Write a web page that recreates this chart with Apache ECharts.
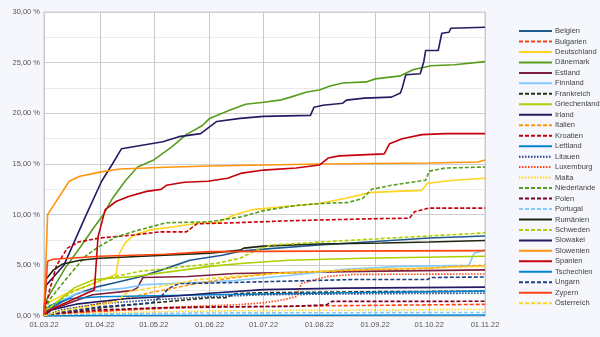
<!DOCTYPE html>
<html><head><meta charset="utf-8">
<script src="https://cdn.jsdelivr.net/npm/echarts/dist/echarts.min.js"></script>
<style>html,body{margin:0;padding:0;background:#f5f7fc}#c{width:600px;height:337px}</style>
</head><body><div id="c"></div><script>
// ---- data (date "MM-DD" in 2022, value in %) ----
const countries = ['Belgien','Bulgarien','Deutschland','Dänemark','Estland','Finnland','Frankreich','Griechenland','Irland','Italien','Kroatien','Lettland','Litauen','Luxemburg','Malta','Niederlande','Polen','Portugal','Rumänien','Schweden','Slowakei','Slowenien','Spanien','Tschechien','Ungarn','Zypern','Österreich'];
const yTicks = [0,5,10,15,20,25,30];

const belgien = [['03-01',0],['03-02',0.5],['03-18',2.1],['03-31',2.9],['04-10',3.3],['04-24',3.9],['05-08',4.7],['05-21',5.5],['06-08',6.0],['06-18',6.4],['07-01',6.6],['08-01',7.0],['09-01',7.35],['10-01',7.7],['11-01',7.9]];
const bulgarien = [['03-01',0],['03-15',0.3],['04-15',0.6],['05-15',0.8],['06-15',0.9],['08-01',1.0],['11-01',1.15]];
const deutschland = [['03-01',0],['03-02',1.2],['03-13',2.2],['03-27',3.1],['04-10',4.1],['04-12',6.2],['04-15',7.2],['04-20',8.0],['04-29',8.5],['05-12',8.8],['05-27',9.2],['06-05',9.2],['06-15',10.0],['06-25',10.5],['07-13',10.8],['08-01',11.1],['08-15',11.6],['08-30',12.2],['09-27',12.4],['09-30',13.1],['10-15',13.4],['11-01',13.6]];
const daenemark = [['03-01',0],['03-02',1.5],['03-13',4.8],['03-22',7.0],['03-29',8.8],['04-03',10.0],['04-08',11.6],['04-15',13.3],['04-22',14.7],['05-01',15.4],['05-11',16.7],['05-19',17.9],['05-28',18.8],['06-01',19.5],['06-12',20.3],['06-21',20.9],['07-01',21.1],['07-10',21.3],['07-16',21.6],['07-25',22.1],['08-01',22.3],['08-07',22.7],['08-14',23.0],['08-27',23.1],['09-01',23.4],['09-15',23.7],['09-22',24.3],['10-02',24.7],['10-15',24.8],['11-01',25.1]];
const estland = [['03-01',0],['03-05',0.6],['03-17',1.4],['03-28',2.1],['04-19',2.5],['04-22',2.8],['04-25',3.8],['05-20',3.9],['06-15',4.2],['08-25',4.4],['11-01',4.55]];
const finnland = [['03-01',0],['03-05',1.0],['03-20',2.3],['04-01',2.5],['04-15',2.75],['04-26',3.1],['05-20',3.25],['06-15',3.5],['07-15',4.0],['08-15',4.6],['09-15',4.9],['10-23',5.0],['10-26',6.2],['11-01',6.5]];
const frankreich = [['03-01',0],['03-15',0.4],['04-01',0.8],['05-01',1.3],['06-01',1.8],['06-10',1.8],['06-15',2.2],['07-01',2.3],['09-01',2.4],['11-01',2.45]];
const griechenland = [['03-01',0],['03-02',0.5],['03-18',2.8],['03-29',3.6],['04-20',3.9],['05-20',4.6],['06-01',4.9],['06-20',5.2],['07-15',5.5],['08-25',5.7],['11-01',5.9]];
const irland = [['03-01',0],['03-02',3.0],['03-08',4.2],['03-12',5.0],['03-17',7.0],['03-24',9.8],['04-02',13.3],['04-08',15.0],['04-13',16.5],['05-06',17.2],['05-15',17.7],['05-27',18.0],['06-05',19.2],['06-18',19.5],['07-01',19.7],['07-27',19.8],['07-29',20.6],['08-03',20.8],['08-14',21.0],['08-16',21.3],['08-26',21.5],['09-10',21.6],['09-15',22.0],['09-16',22.5],['09-18',23.8],['09-26',23.9],['09-28',25.1],['09-29',26.2],['10-06',26.2],['10-08',27.9],['10-12',28.0],['10-13',28.4],['11-01',28.5]];
const italien = [['03-01',0],['03-10',0.5],['03-25',1.0],['04-20',1.9],['04-29',2.3],['05-26',3.25],['06-15',3.8],['07-07',4.2],['08-25',4.55],['10-01',4.7],['10-15',4.9],['11-01',5.0]];
const kroatien = [['03-01',0],['03-04',2.5],['03-08',5.0],['03-14',6.7],['03-20',7.3],['04-01',7.7],['04-20',8.0],['05-04',8.3],['05-19',8.3],['05-25',9.1],['06-15',9.2],['07-15',9.4],['08-31',9.6],['09-20',9.65],['09-23',10.3],['10-01',10.65],['11-01',10.65]];
const lettland = [['03-01',0],['03-04',1.0],['03-15',1.7],['04-01',1.9],['06-01',2.1],['08-15',2.3],['11-01',2.45]];
const litauen = [['03-01',0],['03-10',0.6],['04-01',1.2],['05-01',1.6],['06-01',1.9],['07-01',2.1],['09-01',2.2],['11-01',2.25]];
const luxemburg = [['03-01',0],['03-15',0.3],['04-15',0.6],['05-15',0.9],['06-15',1.1],['07-01',1.3],['07-12',1.6],['07-19',1.9],['07-22',3.2],['08-05',3.9],['08-20',4.1],['11-01',4.15]];
const malta = [['03-01',0],['04-01',0.3],['06-01',0.5],['11-01',0.65]];
const niederlande = [['03-01',0],['03-04',1.6],['03-14',3.8],['03-24',5.9],['04-01',6.9],['04-10',7.8],['04-23',8.5],['05-08',9.2],['06-01',9.3],['06-19',9.8],['07-01',10.4],['07-19',10.9],['08-01',11.1],['08-17',11.2],['08-25',11.6],['08-30',12.5],['09-10',12.9],['09-25',13.3],['09-29',13.4],['10-01',14.3],['10-10',14.6],['11-01',14.7]];
const polen = [['03-01',0],['03-10',0.3],['04-01',0.6],['05-01',0.8],['06-01',0.9],['07-15',0.95],['08-05',1.1],['08-08',1.44],['11-01',1.45]];
const portugal = [['03-01',0],['04-01',0.2],['06-01',0.3],['11-01',0.35]];
const rumaenien = [['03-01',0],['03-02',3.6],['03-06',4.5],['03-11',5.1],['03-21',5.5],['04-01',5.7],['05-07',6.0],['06-01',6.2],['06-18',6.5],['06-20',6.7],['07-01',6.9],['08-01',7.1],['09-05',7.2],['10-01',7.3],['11-01',7.45]];
const schweden = [['03-01',0],['03-02',0.6],['03-17',2.4],['04-04',3.7],['04-23',4.4],['05-20',4.9],['06-05',5.2],['06-18',5.7],['06-27',6.5],['07-05',7.0],['07-28',7.25],['09-10',7.7],['10-01',7.9],['11-01',8.2]];
const slowakei = [['03-01',0],['03-05',0.6],['03-20',1.2],['04-15',1.7],['05-15',2.0],['06-01',2.25],['07-01',2.6],['08-15',2.75],['11-01',2.85]];
const slowenien = [['03-01',0],['03-03',10.0],['03-15',13.3],['03-21',13.8],['04-01',14.2],['04-12',14.5],['05-12',14.7],['06-01',14.8],['08-01',15.0],['10-01',15.1],['10-28',15.2],['11-01',15.4]];
const spanien = [['03-01',0],['03-03',0.5],['03-29',2.6],['03-31',7.8],['04-04',10.5],['04-10',11.3],['04-17',11.8],['04-27',12.3],['05-05',12.5],['05-08',12.9],['05-18',13.2],['05-31',13.3],['06-11',13.6],['06-19',14.1],['07-01',14.4],['07-19',14.6],['08-01',14.9],['08-06',15.6],['08-12',15.8],['09-06',16.0],['09-09',17.0],['09-16',17.5],['09-27',17.9],['10-10',18.0],['11-01',18.0]];
const tschechien = [['03-01',0],['04-01',0.05],['11-01',0.1]];
const ungarn = [['03-01',0],['03-10',0.4],['04-01',0.9],['04-30',1.3],['05-05',1.9],['05-09',2.7],['05-15',3.2],['06-01',3.25],['08-20',3.6],['09-30',3.6],['10-02',3.8],['11-01',3.85]];
const zypern = [['03-01',0],['03-02',2.9],['03-03',5.4],['03-06',5.6],['03-15',5.7],['04-01',5.9],['05-07',6.1],['06-01',6.35],['08-01',6.4],['11-01',6.45]];
const oesterreich = [['03-01',0],['03-10',0.5],['03-25',0.9],['04-10',1.4],['04-17',2.4],['04-29',2.75],['05-26',3.6],['06-15',3.9],['07-07',4.2],['08-25',4.6],['10-01',4.75],['11-01',4.9]];

const seriesData = [belgien,bulgarien,deutschland,daenemark,estland,finnland,frankreich,griechenland,irland,italien,kroatien,lettland,litauen,luxemburg,malta,niederlande,polen,portugal,rumaenien,schweden,slowakei,slowenien,spanien,tschechien,ungarn,zypern,oesterreich];

// ---- styles ----
const colors = ['#1f5a8f','#ff420e','#ffd320','#579d1c','#7e1f3f','#83caff','#2a3310','#aecf00','#261a63','#ff950e','#c5000b','#0084d1','#1f3f80','#ff420e','#ffd320','#579d1c','#7e0021','#83caff','#1f2610','#aecf00','#261a63','#ff950e','#c5000b','#0084d1','#1f3f80','#ff420e','#ffd320'];
const kinds  = ['s','d','s','s','s','s','d','s','s','d','d','s','o','o','o','d','d','d','s','d','s','s','s','s','d','s','d'];
const dashMap = {s:'solid', d:[4,2], o:[1.5,1.5]};

function toTime(md){ const p = md.split('-'); return new Date(2022, +p[0]-1, +p[1]).getTime(); }
function pad(n){ return (n<10?'0':'')+n; }

const series = countries.map((name,i)=>({
  name: name,
  type: 'line',
  data: seriesData[i].map(p=>[toTime(p[0]), p[1]]),
  symbol: 'none',
  showSymbol: false,
  animation: false,
  color: colors[i],
  lineStyle: {color: colors[i], width: 1.6, type: dashMap[kinds[i]]}
}));

const chart = echarts.init(document.getElementById('c'), null, {renderer:'canvas'});
chart.setOption({
  backgroundColor: '#f5f7fc',
  animation: false,
  textStyle: {fontFamily: 'Liberation Sans, DejaVu Sans, sans-serif'},
  grid: {left: 44, right: 115, top: 12, bottom: 21, show: true, backgroundColor: '#ffffff', borderColor: '#cccccc', borderWidth: 1},
  xAxis: {
    type: 'time',
    min: toTime('03-01'), max: toTime('11-01'),
    splitNumber: 8,
    minInterval: 28*864e5, maxInterval: 31*864e5,
    axisLine: {show: true, lineStyle: {color: '#cccccc'}},
    axisTick: {show: false},
    splitLine: {show: true, lineStyle: {color: '#c8c8c8', width: 1}},
    axisLabel: {
      fontSize: 7.5, color: '#555', margin: 5, hideOverlap: false, showMinLabel: true, showMaxLabel: true,
      formatter: function(v){ const d = new Date(v); return pad(d.getDate())+'.'+pad(d.getMonth()+1)+'.'+String(d.getFullYear()).slice(2); }
    }
  },
  yAxis: {
    type: 'value', min: yTicks[0], max: yTicks[yTicks.length-1], interval: 5,
    axisLine: {show: false}, axisTick: {show: false},
    splitLine: {show: true, lineStyle: {color: '#cfcfcf'}},
    minorTick: {show: false, splitNumber: 2},
    minorSplitLine: {show: true, lineStyle: {color: '#ebebeb'}},
    axisLabel: {fontSize: 7.5, color: '#555', margin: 4, formatter: v => v.toFixed(2).replace('.', ',') + ' %'}
  },
  legend: {
    orient: 'vertical', left: 513, top: 22,
    itemWidth: 33, itemHeight: 8, itemGap: 2.47,
    itemStyle: {opacity: 0, borderWidth: 0},
    textStyle: {fontSize: 7.5, color: '#444', lineHeight: 8, padding: [0,0,0,-2]},
    data: countries
  },
  series: series
});
</script></body></html>
